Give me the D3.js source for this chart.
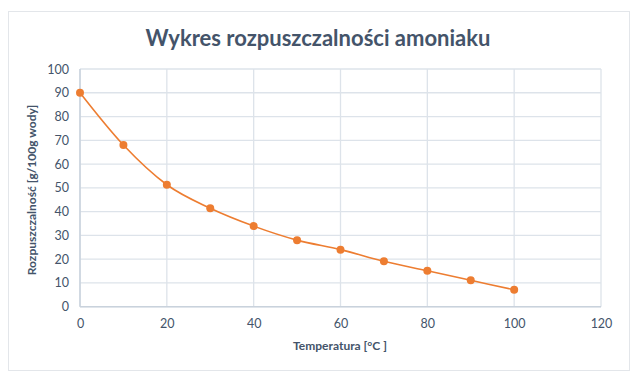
<!DOCTYPE html>
<html><head><meta charset="utf-8">
<script src="https://cdn.jsdelivr.net/npm/d3@7"></script>
<style>body{margin:0;background:#fff}svg{display:block}text{font-family:Lato,"Open Sans",sans-serif}</style>
</head><body>
<svg id="c" width="640" height="383"></svg>
<script>
const temps = [0,10,20,30,40,50,60,70,80,90,100];
const solubility = [90,68,51.3,41.4,33.9,28,24,19.1,15.1,11.1,7.1];
const xTicks = [0,20,40,60,80,100,120];
const yTicks = [0,10,20,30,40,50,60,70,80,90,100];
const title = "Wykres rozpuszczalności amoniaku";
const xTitle = "Temperatura [°C ]";
const yTitle = "Rozpuszczalność [g/100g wody]";

const svg = d3.select("#c");
const textCol = "#44546A", tickCol = "#595959";
svg.append("rect").attr("x",8.5).attr("y",11.5).attr("width",621).attr("height",359)
  .attr("fill","#fff").attr("stroke","#E3E6EA");
const L=80, R=601, T=69, B=306.7;
const x = d3.scaleLinear().domain([0,120]).range([L,R]);
const y = d3.scaleLinear().domain([0,100]).range([B,T]);

const g = svg.append("g");
g.selectAll(".gy").data(yTicks).join("line").attr("x1",L).attr("x2",R)
  .attr("y1",d=>y(d)).attr("y2",d=>y(d)).attr("stroke","#DDE3EA").attr("stroke-width",1.3);
g.selectAll(".gx").data(xTicks).join("line").attr("y1",T).attr("y2",B)
  .attr("x1",d=>x(d)).attr("x2",d=>x(d)).attr("stroke","#DDE3EA").attr("stroke-width",1.3);
g.append("line").attr("x1",L).attr("x2",L).attr("y1",T).attr("y2",B).attr("stroke","#C9D2DC").attr("stroke-width",1.5);
g.append("line").attr("x1",L).attr("x2",R).attr("y1",B).attr("y2",B).attr("stroke","#C9D2DC").attr("stroke-width",1.5);

const xa = svg.append("g").attr("transform",`translate(0,${B})`).call(d3.axisBottom(x).tickValues(xTicks).tickSize(0).tickPadding(12));
xa.select(".domain").remove();
xa.selectAll("text").attr("fill",textCol).attr("font-size",12.5);
const ya = svg.append("g").attr("transform",`translate(${L},0)`).call(d3.axisLeft(y).tickValues(yTicks).tickSize(0).tickPadding(11));
ya.select(".domain").remove();
ya.selectAll("text").attr("fill",textCol).attr("font-size",12.5);

const line = d3.line().x((d,i)=>x(temps[i])).y(d=>y(d)).curve(d3.curveCardinal);
svg.append("path").datum(solubility).attr("d",line).attr("fill","none").attr("stroke","#ED7D31").attr("stroke-width",1.6);
svg.selectAll(".pt").data(solubility).join("circle").attr("cx",(d,i)=>x(temps[i])).attr("cy",d=>y(d))
  .attr("r",4).attr("fill","#ED7D31");

svg.append("text").attr("x",318).attr("y",46).attr("text-anchor","middle").attr("font-size",22).attr("font-weight","bold")
  .attr("fill",textCol).text(title);
svg.append("text").attr("x",340).attr("y",350).attr("text-anchor","middle").attr("font-size",12).attr("font-weight","bold")
  .attr("fill",textCol).text(xTitle);
svg.append("text").attr("transform","translate(36,190) rotate(-90)").attr("text-anchor","middle").attr("font-size",12).attr("font-weight","bold")
  .attr("fill",textCol).text(yTitle);
</script></body></html>
